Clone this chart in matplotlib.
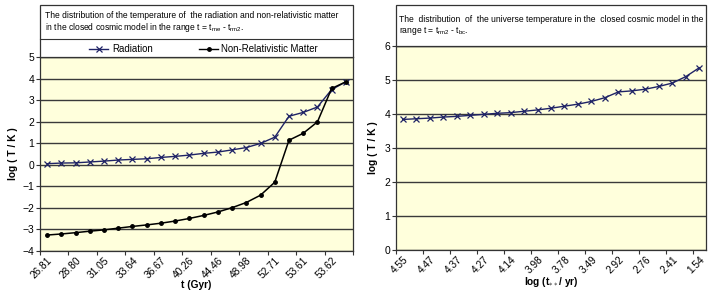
import matplotlib
matplotlib.use("Agg")
import matplotlib.pyplot as plt
from matplotlib.lines import Line2D
from matplotlib.patches import Rectangle

plt.rcParams['font.family'] = ['Liberation Sans', 'DejaVu Sans']
plt.rcParams['mathtext.fontset'] = 'custom'
plt.rcParams['mathtext.rm'] = 'Liberation Sans'
plt.rcParams['mathtext.it'] = 'Liberation Sans'

# ---------------- data ----------------
left_tick_labels = ["26.81", "28.80", "31.05", "33.64", "36.67", "40.26",
                    "44.46", "48.98", "52.71", "53.61", "53.62"]
radiation = [0.05, 0.08, 0.09, 0.13, 0.17, 0.22, 0.25, 0.28, 0.34, 0.39, 0.45,
             0.53, 0.59, 0.69, 0.80, 0.99, 1.28, 2.25, 2.43, 2.68, 3.49, 3.85]
matter = [-3.26, -3.21, -3.15, -3.08, -3.02, -2.94, -2.86, -2.79, -2.71, -2.61,
          -2.49, -2.35, -2.19, -1.99, -1.75, -1.41, -0.81, 1.14, 1.46, 1.99,
          3.54, 3.85]

right_tick_labels = ["4.55", "4.47", "4.37", "4.27", "4.14", "3.98", "3.78",
                     "3.49", "2.92", "2.76", "2.41", "1.54"]
universe = [3.84, 3.86, 3.88, 3.91, 3.93, 3.96, 3.99, 4.02, 4.04, 4.08, 4.12,
            4.17, 4.23, 4.29, 4.37, 4.48, 4.65, 4.68, 4.73, 4.81, 4.91, 5.10,
            5.36]

W, H = 720, 293
fig = plt.figure(figsize=(W / 100, H / 100), dpi=100)
fig.patch.set_facecolor('white')

BG = '#FFFFDC'
GRID = '#3a3a3a'
NAVY = '#1F2366'


def fx(px):
    return px / W


def fy(py):
    return 1 - py / H


def add_axes(x0, x1, ytop, ybot):
    return fig.add_axes([fx(x0), fy(ybot), fx(x1) - fx(x0), fy(ytop) - fy(ybot)])


def style(ax, n, labels, ylim):
    ax.set_facecolor(BG)
    ax.set_xlim(-0.5, n - 0.5)
    ax.set_ylim(*ylim)
    ax.set_yticks(range(ylim[0], ylim[1] + 1))
    ax.yaxis.grid(True, color=GRID, linewidth=1.0)
    ax.set_axisbelow(True)
    # ticks at category boundaries, every second
    bounds = [i - 0.5 for i in range(0, n + 1, 2)]
    ax.set_xticks(bounds)
    ax.set_xticklabels([])
    ax.set_xticks(list(range(0, n, 2)), minor=True)
    ax.set_xticklabels(labels, minor=True, rotation=45, ha='right',
                       rotation_mode='anchor', fontsize=7.3)
    ax.tick_params(axis='x', which='minor', length=0, pad=3)
    ax.tick_params(axis='x', which='major', length=3, color='#333333', direction='out')
    ax.tick_params(axis='y', length=3, color='#333333', labelsize=7.5, pad=1)
    for s in ax.spines.values():
        s.set_color('#333333')
        s.set_linewidth(0.9)


# ---------------- left chart ----------------
axL = add_axes(40, 353, 57, 251)
xs = list(range(len(radiation)))
axL.plot(xs, radiation, color=NAVY, marker='x', markersize=4,
         markeredgewidth=0.9, linewidth=1.0, label='Radiation')
axL.plot(xs, matter, color='black', marker='o', markersize=2.5,
         linewidth=1.1, label='Non-Relativistic Matter')
style(axL, len(radiation), left_tick_labels, (-4, 5))
axL.set_xlabel('t (Gyr)', fontsize=7.3, fontweight='bold', labelpad=0)
axL.set_ylabel('log ( T / K )', fontsize=7.3, fontweight='bold', labelpad=3)

# title / legend box
fig.patches.append(Rectangle((fx(40), fy(57)), fx(353) - fx(40), fy(5) - fy(57),
                             transform=fig.transFigure, facecolor='white',
                             edgecolor='#333333', linewidth=0.9, zorder=0))
fig.lines.append(Line2D([fx(40), fx(353)], [fy(39), fy(39)],
                        transform=fig.transFigure, color='#333333', linewidth=0.8))
fig.text(fx(45), fy(16), "The distribution of the temperature of  the radiation and non-relativistic matter",
         fontsize=6.15, va='center', ha='left')
fig.text(fx(45), fy(28), r"in the closed cosmic model in the range t = t$_{\mathrm{me}}$ - t$_{\mathrm{rm2}}$.",
         fontsize=6.15, va='center', ha='left')
# legend
fig.lines.append(Line2D([fx(89), fx(108)], [fy(49), fy(49)], transform=fig.transFigure,
                        color=NAVY, linewidth=1.0))
fig.lines.append(Line2D([fx(98.5)], [fy(49)], transform=fig.transFigure,
                        color=NAVY, marker='x', markersize=4, markeredgewidth=0.9,
                        linestyle='none'))
fig.text(fx(112), fy(49), "Radiation", fontsize=6.9, va='center', ha='left')
fig.lines.append(Line2D([fx(199), fx(218)], [fy(49), fy(49)], transform=fig.transFigure,
                        color='black', linewidth=1.0))
fig.lines.append(Line2D([fx(208.5)], [fy(49)], transform=fig.transFigure,
                        color='black', marker='o', markersize=2.5, linestyle='none'))
fig.text(fx(221), fy(49), "Non-Relativistic Matter", fontsize=6.9, va='center', ha='left')

# ---------------- right chart ----------------
axR = add_axes(396, 706, 46, 250)
xr = list(range(len(universe)))
axR.plot(xr, universe, color=NAVY, marker='x', markersize=4,
         markeredgewidth=0.9, linewidth=1.0)
style(axR, len(universe), right_tick_labels, (0, 6))
axR.set_xlabel(r'log (t$_{\ast\ast}$/ yr)', fontsize=7.3, fontweight='bold', labelpad=0)
axR.set_ylabel('log ( T / K )', fontsize=7.3, fontweight='bold', labelpad=5)

fig.patches.append(Rectangle((fx(396), fy(46)), fx(706) - fx(396), fy(5) - fy(46),
                             transform=fig.transFigure, facecolor='white',
                             edgecolor='#333333', linewidth=0.9, zorder=0))
fig.text(fx(399), fy(19), "The  distribution  of  the universe temperature in the  closed cosmic model in the",
         fontsize=6.15, va='center', ha='left')
fig.text(fx(399), fy(31), r"range t = t$_{\mathrm{rm2}}$ - t$_{\mathrm{bc}}$.",
         fontsize=6.15, va='center', ha='left')

fig.savefig('out.png', dpi=100, facecolor='white')
